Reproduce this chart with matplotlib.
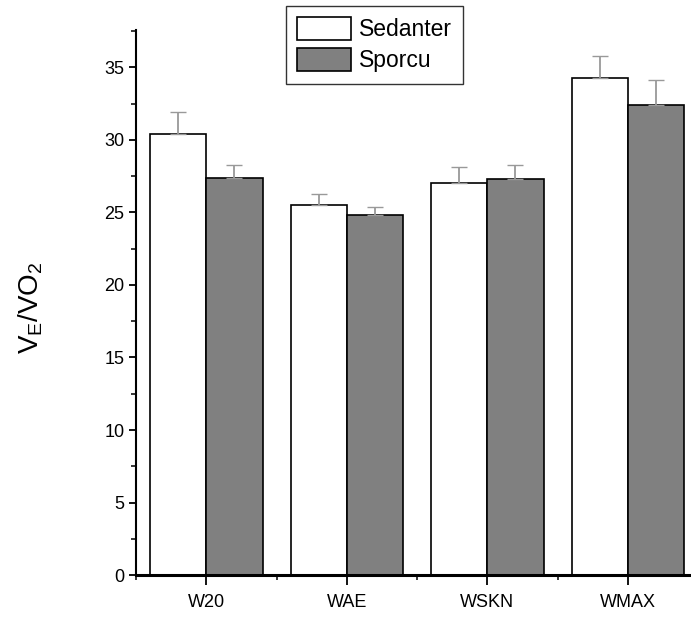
import numpy as np
import matplotlib
matplotlib.use("Agg")
import matplotlib.pyplot as plt
from matplotlib.ticker import MultipleLocator

plt.rcParams['font.family'] = ['Liberation Sans', 'DejaVu Sans']

categories = ["W20", "WAE", "WSKN", "WMAX"]
sedanter = [30.4, 25.5, 27.0, 34.3]
sedanter_err = [1.5, 0.8, 1.1, 1.5]
sporcu = [27.4, 24.8, 27.3, 32.4]
sporcu_err = [0.9, 0.6, 1.0, 1.7]

fig = plt.figure(figsize=(6.91, 6.19), dpi=100)
ax = fig.add_axes([0.197, 0.071, 0.803, 0.881])

x = np.arange(len(categories))
w = 0.4
err_kw = dict(ecolor="#999999", capsize=6, elinewidth=1.3, capthick=1.0)
ax.bar(x - w, sedanter, w, align="edge", color="white", edgecolor="black",
       linewidth=1.2, yerr=[np.zeros(4), sedanter_err], error_kw=err_kw,
       label="Sedanter")
ax.bar(x, sporcu, w, align="edge", color="#808080", edgecolor="black",
       linewidth=1.2, yerr=[np.zeros(4), sporcu_err], error_kw=err_kw,
       label="Sporcu")

ax.set_xlim(-0.5, 3.45)
ax.set_ylim(0, 37.6)
ax.set_xticks(x)
ax.set_xticklabels(categories, fontsize=13)
ax.xaxis.set_minor_locator(MultipleLocator(1, offset=0.5))
ax.yaxis.set_major_locator(MultipleLocator(5))
ax.yaxis.set_minor_locator(MultipleLocator(2.5))
ax.tick_params(axis="y", labelsize=13, length=5, width=1.3, direction="out")
ax.tick_params(axis="x", length=7, width=1.3, direction="out", pad=7)
ax.tick_params(which="minor", length=3.5, width=1.1)

for s in ["top", "right"]:
    ax.spines[s].set_visible(False)
ax.spines["left"].set_linewidth(1.5)
ax.spines["bottom"].set_linewidth(2.2)

ax.set_ylabel(r"V$_\mathregular{E}$/VO$_\mathregular{2}$", fontsize=20)
ax.yaxis.set_label_coords(-0.165, 0.49)

leg = ax.legend(loc="upper left", bbox_to_anchor=(286 / 691, 1 - 6 / 619),
                bbox_transform=fig.transFigure, fontsize=16.5,
                frameon=True, fancybox=False, edgecolor="black",
                handlelength=2.35, handleheight=1.12, handletextpad=0.33,
                borderpad=0.5, labelspacing=0.3, borderaxespad=0)
leg.get_frame().set_linewidth(1.0)

fig.savefig("out.png", dpi=100)
